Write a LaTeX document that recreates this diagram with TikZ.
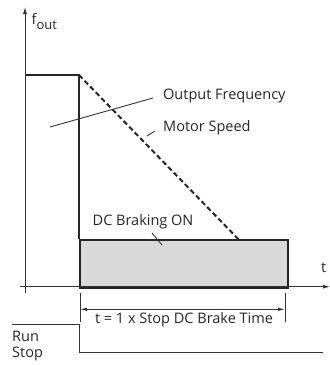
\documentclass[tikz,border=0pt]{standalone}
\usepackage{fontspec}
\setmainfont{Open Sans}
\usetikzlibrary{arrows.meta}
\begin{document}
\begin{tikzpicture}[x=1pt,y=-1pt,
  thin line/.style={line width=0.9pt,black!80},
  thick line/.style={line width=2pt,black!85},
  lbl/.style={inner sep=0pt,font=\fontsize{14.5}{17}\selectfont,text=black!85},
  axisarrow/.style={-{Latex[length=7pt,width=4pt]}}]
\useasboundingbox (0,0) rectangle (330,365);
% braking box
\node[draw=black!85,line width=2pt,fill=black!15,minimum width=207.5pt,minimum height=47.5pt,inner sep=0pt,anchor=north west] (box) at (79,239.3) {};
% axes
\coordinate (yb) at (25,293);
\coordinate (yt) at (25,7);
\coordinate (xl) at (20,286.7);
\coordinate (xr) at (330,286.7);
\draw[thin line,axisarrow] (yb) -- (yt);
\draw[thin line,axisarrow] (xl) -- (xr);
\node[lbl,anchor=base west] (fout) at (31.5,24) {f\raisebox{-5.5pt}{\fontsize{13}{15}\selectfont out}};
\node[lbl,anchor=base west] (t) at (321,272) {t};
% output frequency
\coordinate (p0) at (26,75);
\coordinate (p1) at (79,75);
\draw[thick line] (p0) -- (p1) -- (box.north west);
% motor speed
\coordinate (m1) at (238.5,239.3);
\draw[thick line,dash pattern=on 5pt off 3pt] (p1) -- (m1);
% labels
\node[lbl,anchor=west] (of) at (163,96) {Output Frequency};
\coordinate (ofa) at (50,127);
\coordinate (ofb) at (153,98);
\draw[thin line] (ofa) -- (ofb);
\node[lbl,anchor=west] (ms) at (163,128) {Motor Speed};
\coordinate (msa) at (147,136);
\coordinate (msb) at (155,131);
\draw[thin line] (msa) -- (msb);
\node[lbl,anchor=west] (dc) at (92.5,221.5) {DC Braking ON};
\coordinate (dca) at (152,233);
\coordinate (dcb) at (162,245);
\draw[thin line] (dca) -- (dcb);
% dimension
\coordinate (d1a) at (80,293);
\coordinate (d1b) at (80,322);
\coordinate (d2a) at (285,293);
\coordinate (d2b) at (285,322);
\draw[thin line] (d1a) -- (d1b);
\draw[thin line] (d2a) -- (d2b);
\coordinate (da) at (80,309.3);
\coordinate (db) at (285,309.3);
\draw[thin line,{Latex[length=7pt,width=3.5pt]}-{Latex[length=7pt,width=3.5pt]}] (da) -- (db);
\node[lbl,anchor=center] (dt) at (184,320) {t = 1 x Stop DC Brake Time};
% run/stop
\coordinate (r0) at (12,324);
\coordinate (r1) at (79.3,324);
\coordinate (r2) at (79.3,352.3);
\coordinate (r3) at (323,352.3);
\draw[thin line] (r0) -- (r1) -- (r2) -- (r3);
\node[lbl,anchor=west] (run) at (12,336.7) {Run};
\node[lbl,anchor=west] (stop) at (12,354) {Stop};
\end{tikzpicture}
\end{document}
